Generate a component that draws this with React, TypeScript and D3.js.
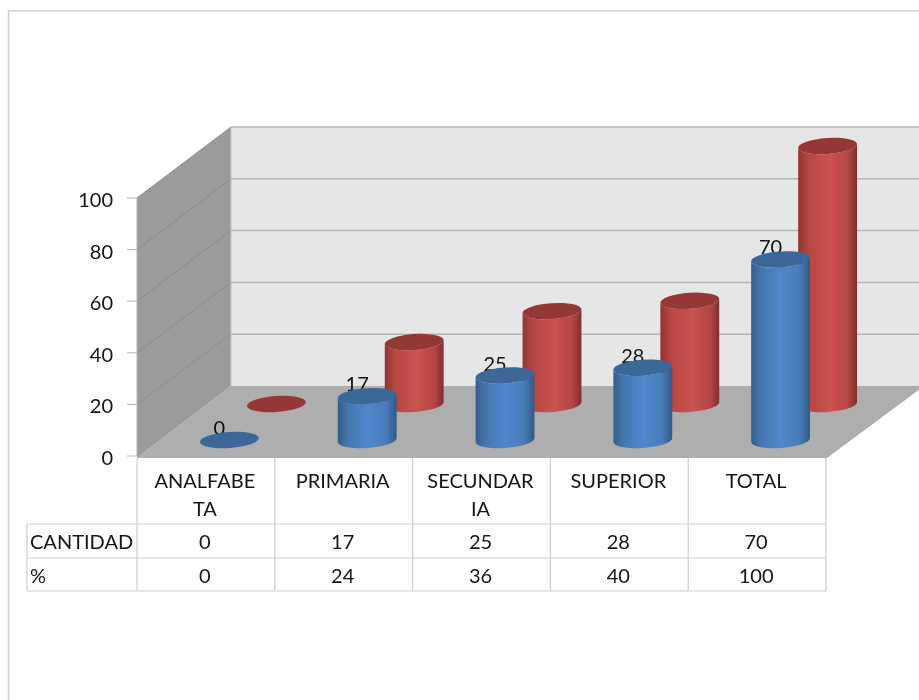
import React from "react";
import * as d3 from "d3";

const categories = ["ANALFABETA", "PRIMARIA", "SECUNDARIA", "SUPERIOR", "TOTAL"];
const categoryLines = [["ANALFABE", "TA"], ["PRIMARIA"], ["SECUNDAR", "IA"], ["SUPERIOR"], ["TOTAL"]];
const cantidad = [0, 17, 25, 28, 70];
const porcentaje = [0, 24, 36, 40, 100];
const yTicks = [0, 20, 40, 60, 80, 100];
const rowNames = ["CANTIDAD", "%"];

const W = 919, H = 700;
const x = d3.scaleBand<string>().domain(categories).range([137, 826]);
const yFront = d3.scaleLinear().domain([0, 100]).range([456, 198]);
const yBack = d3.scaleLinear().domain([0, 100]).range([386, 127]);
const depthX = 94;
const RX = 29.5, RY = 8, TILT = (4 * Math.PI) / 180;
const font = "Lato, 'Open Sans', sans-serif";
const gridColor = "#b4b4b4";
const tableColor = "#cfcfcf";
const FS = 20;

function Cylinder({ cx, base, top, kind }: { cx: number; base: number; top: number; kind: string }) {
  const dx = RX * Math.cos(TILT), dy = RX * Math.sin(TILT);
  const rot = -4;
  const body = `M${cx - dx},${top + dy} L${cx - dx},${base + dy} A${RX},${RY} ${rot} 0 0 ${cx + dx},${base - dy} L${cx + dx},${top - dy} A${RX},${RY} ${rot} 0 1 ${cx - dx},${top + dy} Z`;
  return (
    <g>
      {base !== top && <path d={body} fill={`url(#grad-${kind})`} />}
      <ellipse cx={cx} cy={top} rx={RX} ry={RY} transform={`rotate(${rot} ${cx} ${top})`} fill={kind === "blue" ? "#3b6797" : "#953735"} />
    </g>
  );
}

function Grad({ id, stops }: { id: string; stops: [number, string][] }) {
  return (
    <linearGradient id={id} x1="0" x2="1" y1="0" y2="0">
      {stops.map(([o, c]) => <stop key={o} offset={o} stopColor={c} />)}
    </linearGradient>
  );
}

export default function App() {
  const bw = x.bandwidth();
  const blueBase = 440, redBase = 404;
  const h = (v: number) => yFront(0) - yFront(v);
  const lefts = categories.map((c) => x(c) as number);
  const tableTop = 458, row1 = 524, row2 = 558, row3 = 591, tableLeft = 27;
  const txt = { fontFamily: font, fontSize: FS, fill: "#141414", textAnchor: "middle" as const, dominantBaseline: "central" as const };
  return (
    <svg width={W} height={H} style={{ position: "absolute", left: 0, top: 0, background: "#fff" }}>
      <defs>
        <Grad id="grad-blue" stops={[[0, "#345e8c"], [0.18, "#4577b0"], [0.5, "#5187cb"], [0.82, "#4a7cba"], [1, "#315a86"]]} />
        <Grad id="grad-red" stops={[[0, "#8f3533"], [0.18, "#b74643"], [0.55, "#cb5350"], [0.85, "#b44542"], [1, "#7f2e2c"]]} />
        <filter id="soft" x="-2%" y="-2%" width="104%" height="104%"><feGaussianBlur stdDeviation="0.55" /></filter>
      </defs>
      <g filter="url(#soft)">
        <path d={`M${W + 5},11 H8.5 V${H + 5}`} fill="none" stroke="#d0d0d0" strokeWidth={1.5} />

        {/* walls */}
        <rect x={137 + depthX} y={yBack(100)} width={W - 231 + 5} height={yBack(0) - yBack(100)} fill="#e6e6e6" />
        <polygon points={`137,${yFront(100)} 231,${yBack(100)} 231,${yBack(0)} 137,${yFront(0) + 2}`} fill="#9b9b9b" />
        <polygon points={`137,${yFront(0) + 2} 231,${yBack(0)} ${W + 5},${yBack(0)} 827,${yFront(0) + 2}`} fill="#aeaeae" />
        {yTicks.map((t) => (
          <g key={t}>
            {t > 0 && <line x1={231} x2={W + 5} y1={yBack(t)} y2={yBack(t)} stroke={gridColor} strokeWidth={1.5} />}
            {t > 0 && <line x1={137} x2={231} y1={yFront(t)} y2={yBack(t)} stroke="#8c8c8c" strokeWidth={1} />}
            <line x1={127} x2={137} y1={yFront(t)} y2={yFront(t)} stroke={gridColor} />
            <text x={113} y={yFront(t) + 1} textAnchor="end" dominantBaseline="central" fontFamily={font} fontSize={FS} fill="#141414">{t}</text>
          </g>
        ))}
        <line x1={231} x2={231} y1={yBack(100)} y2={yBack(0)} stroke="#c4c4c4" />
        <line x1={137} x2={137} y1={yFront(100)} y2={yFront(0)} stroke={gridColor} />

        {/* red cylinders behind, then labels, then blue */}
        {categories.map((c, i) => (
          <Cylinder key={c} kind="red" cx={(x(c) as number) + bw / 2 + 70.5} base={redBase} top={redBase - h(porcentaje[i])} />
        ))}
        {categories.map((c, i) => (
          <text key={c} {...txt} fill="#111" x={(x(c) as number) + bw / 2 + 13.5} y={blueBase - h(cantidad[i]) - 13}>{cantidad[i]}</text>
        ))}
        {categories.map((c, i) => (
          <Cylinder key={c} kind="blue" cx={(x(c) as number) + bw / 2 + 23.5} base={blueBase} top={blueBase - h(cantidad[i])} />
        ))}

        {/* data table */}
        {[...lefts, 826].map((l, i) => (
          <line key={i} x1={l} x2={l} y1={tableTop} y2={row3} stroke={tableColor} strokeWidth={1.2} />
        ))}
        <line x1={tableLeft} x2={tableLeft} y1={row1} y2={row3} stroke={tableColor} strokeWidth={1.2} />
        {[row1, row2, row3].map((r) => (
          <line key={r} x1={tableLeft} x2={826} y1={r} y2={r} stroke={tableColor} strokeWidth={1.2} />
        ))}
        {categories.map((c, i) => (
          <g key={c}>
            {categoryLines[i].map((ln, j) => (
              <text key={j} {...txt} x={(x(c) as number) + bw / 2 - 1} y={480 + j * 28}>{ln}</text>
            ))}
            <text {...txt} x={(x(c) as number) + bw / 2 - 1} y={541}>{cantidad[i]}</text>
            <text {...txt} x={(x(c) as number) + bw / 2 - 1} y={575}>{porcentaje[i]}</text>
          </g>
        ))}
        {rowNames.map((n, i) => (
          <text key={n} {...txt} textAnchor="start" x={30} y={541 + i * 34}>{n}</text>
        ))}
      </g>
    </svg>
  );
}
